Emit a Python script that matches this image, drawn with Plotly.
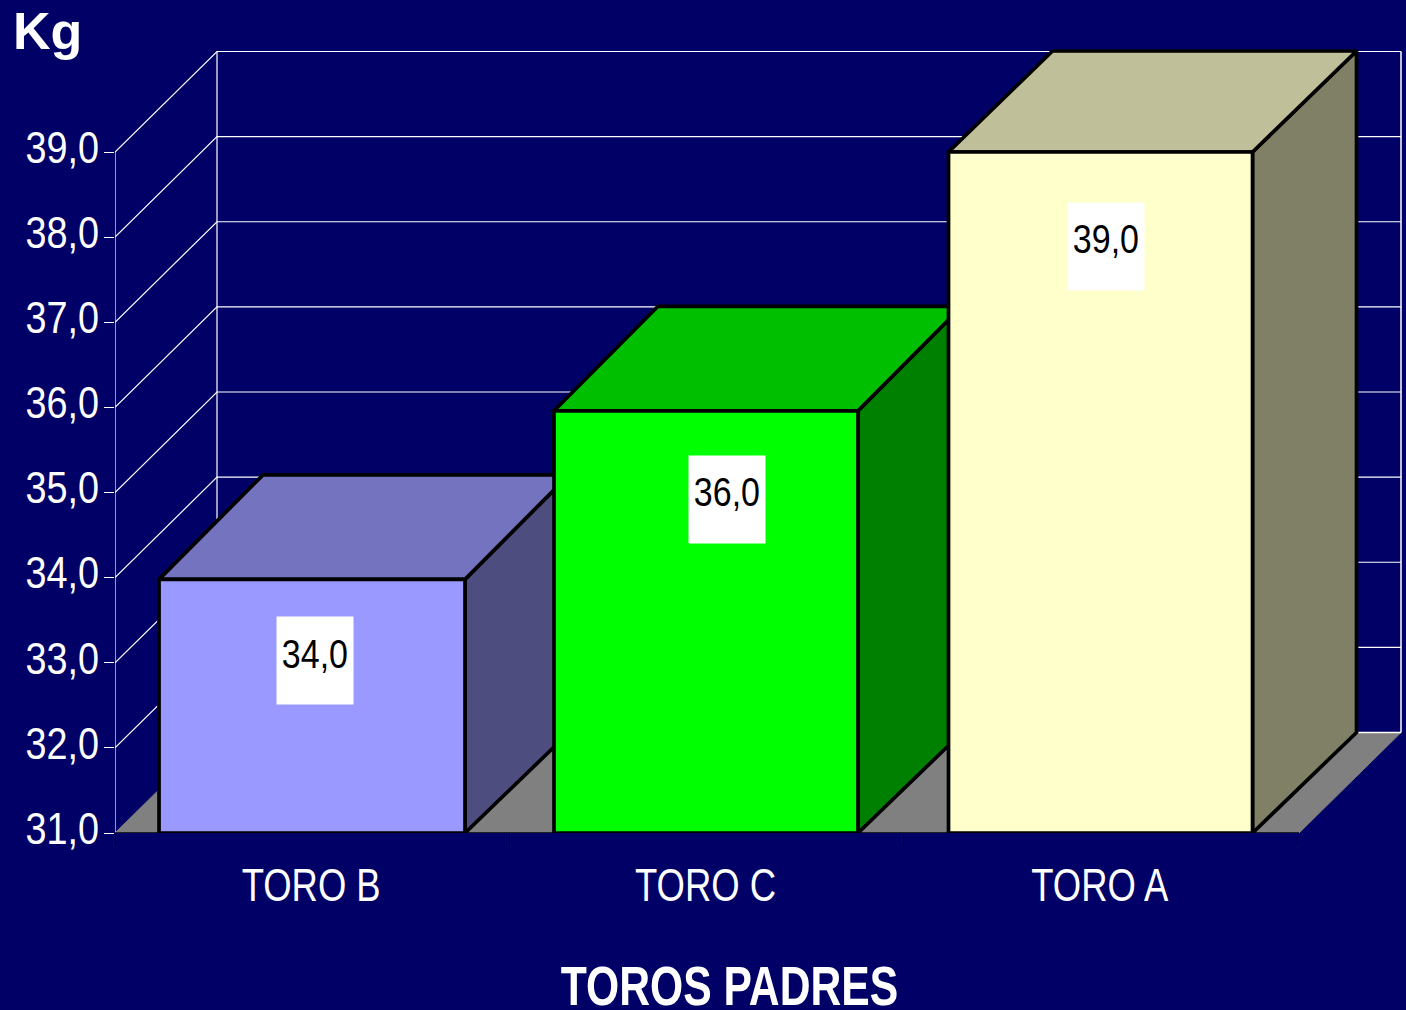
import plotly.graph_objects as go

categories = ["TORO B", "TORO C", "TORO A"]
values = [33.98, 35.96, 39.0]
value_labels = ["34,0", "36,0", "39,0"]
y_ticks = [31, 32, 33, 34, 35, 36, 37, 38, 39]
y_tick_labels = ["31,0", "32,0", "33,0", "34,0", "35,0", "36,0", "37,0", "38,0", "39,0"]
front_colors = ["#9999FF", "#00FF00", "#FFFFCC"]
top_colors = ["#7373BF", "#00BF00", "#BFBF99"]
side_colors = ["#4D4D80", "#008000", "#808066"]

W, H = 1406, 1010
# plot area is a little larger than the chart box so the outlines are not clipped
L, R, T, B = 115, 1405, 44, 833
PX_X = 394.3
PX_Y = 85.125
DX = 102 / PX_X
DY = 100.5 / PX_Y
XWALL = (1401 - L) / PX_X
BAR_DX = 104 / PX_X
Y0 = 31
XMAX = (R - L) / PX_X
YMAX = Y0 + (B - T) / PX_Y
FONT = "Liberation Sans"
GRID = "#FFFFFF"
bar_centers = [0.4997, 1.4989, 2.4994]
bar_widths = [0.776, 0.771, 0.771]
bar_depths = [104.5, 104.5, 101]
label_dx = [0.008, 0.051, 0.013]
label_dy = [0.976, 1.082, 1.11]
label_tops = [34.0, 36.0, 39.0]

fig = go.Figure()


def poly(xs, ys, fill, line="black", lw=3.7):
    fig.add_trace(go.Scatter(x=xs, y=ys, mode="lines", fill="toself", fillcolor=fill,
                             line=dict(color=line, width=lw), hoverinfo="skip",
                             showlegend=False, cliponaxis=False))


def line(xs, ys, color="white", lw=1.2):
    fig.add_trace(go.Scatter(x=xs, y=ys, mode="lines", line=dict(color=color, width=lw),
                             hoverinfo="skip", showlegend=False, cliponaxis=False))


# floor
poly([0, XWALL - DX, XWALL, DX, 0], [Y0, Y0, Y0 + DY, Y0 + DY, Y0], "#808080", "#808080", 1)

# walls and gridlines
for v in y_ticks:
    if v == Y0:
        line([DX, XWALL], [v + DY, v + DY], GRID, 1.5)
    else:
        line([0, DX, XWALL], [v, v + DY, v + DY], GRID)
line([0, 0], [Y0, 39], GRID)
line([DX, DX], [Y0 + DY, 39 + DY], GRID)
line([XWALL, XWALL], [Y0 + DY, 39 + DY], GRID, 1.5)

# front edge of the floor
line([0, XWALL - DX], [Y0, Y0], "black", 1.5)

# bars
for i, v in enumerate(values):
    x0, x1 = bar_centers[i] - bar_widths[i] / 2, bar_centers[i] + bar_widths[i] / 2
    d = bar_depths[i] / PX_Y
    poly([x1, x1 + BAR_DX, x1 + BAR_DX, x1, x1], [Y0, Y0 + DY, v + d, v, Y0], side_colors[i])
    poly([x0, x0 + BAR_DX, x1 + BAR_DX, x1, x0], [v, v + d, v + d, v, v], top_colors[i])
    poly([x0, x1, x1, x0, x0], [Y0, Y0, v, v, Y0], front_colors[i])

for i, v in enumerate(label_tops):
    lx, ly = i + 0.5 + label_dx[i], v - label_dy[i]
    fig.add_annotation(x=lx, y=ly, text=" ", showarrow=False, xref="x", yref="y",
                       bgcolor="white", width=76, height=87, borderpad=0,
                       font=dict(family=FONT, size=10, color="white"))
    fig.add_annotation(x=lx, y=ly, yshift=7, text=value_labels[i], showarrow=False,
                       xref="x", yref="y",
                       font=dict(family=FONT, size=40, color="black"))

fig.add_annotation(x=(11 - L) / (R - L), y=(B - 31) / (B - T), xref="paper", yref="paper",
                   text="Kg", showarrow=False, xanchor="left", yanchor="middle",
                   font=dict(family=FONT, size=52, color="white", weight=700))
fig.add_annotation(x=(729 - L) / (R - L), y=(B - 985) / (B - T), xref="paper", yref="paper",
                   text="TOROS PADRES", showarrow=False, xanchor="center", yanchor="middle",
                   font=dict(family=FONT, size=56, color="white", weight=700))

fig.update_layout(
    width=W, height=H, autosize=False,
    paper_bgcolor="#000066", plot_bgcolor="#000066",
    margin=dict(l=L, r=W - R, t=T, b=H - B),
    showlegend=False,
    xaxis=dict(range=[0, XMAX], tickmode="array", tickvals=[0.5, 1.5, 2.5], ticktext=categories,
               showgrid=False, zeroline=False, showline=False, ticks="",
               ticklabelstandoff=20, ticklabelshift=-1,
               minor=dict(tickmode="array", tickvals=[0, 1, 2, 3], ticks="outside", ticklen=12,
                          tickcolor="black", tickwidth=1, showgrid=False),
               tickfont=dict(family=FONT, size=47, color="white")),
    yaxis=dict(range=[Y0, YMAX], tickmode="array", tickvals=y_ticks, ticktext=y_tick_labels,
               showgrid=False, zeroline=False, showline=False,
               ticks="outside", ticklen=10, tickcolor=GRID, tickwidth=1,
               ticklabelstandoff=-4, ticklabelshift=-5,
               tickfont=dict(family=FONT, size=45, color="white")),
)

post_script = """
document.documentElement.style.background = '#000066';
document.body.style.margin = '0';
document.body.style.background = '#000066';
function squeeze(t, f) {
  var l = t.getComputedTextLength();
  t.setAttribute('textLength', l * f);
  t.setAttribute('lengthAdjust', 'spacingAndGlyphs');
}
document.querySelectorAll('.ytick text').forEach(function (t) { squeeze(t, 0.84); });
document.querySelectorAll('.xtick text').forEach(function (t) { squeeze(t, 0.775); });
document.querySelectorAll('.annotation-text').forEach(function (t) {
  if (t.textContent === 'TOROS PADRES') squeeze(t, 0.762);
  else if (/^[0-9]/.test(t.textContent)) squeeze(t, 0.85);
});
"""
fig.write_html("out.html", post_script=post_script, config={"displayModeBar": False})
